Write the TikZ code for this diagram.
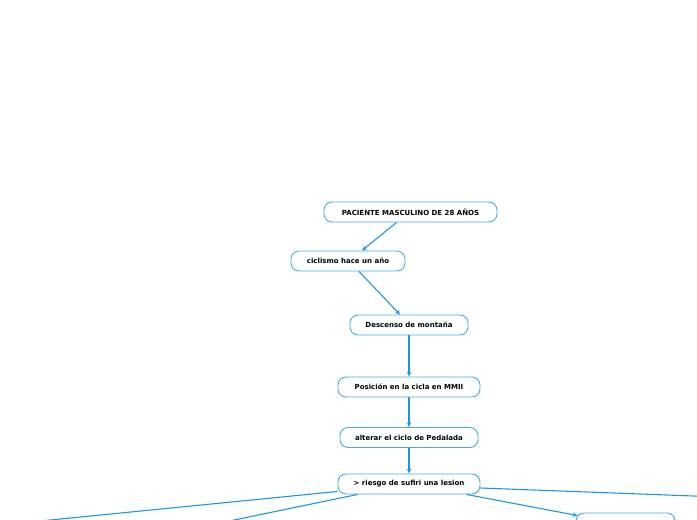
\documentclass[tikz,border=0pt]{standalone}
\usepackage{fontspec}
\setmainfont{DejaVu Sans}
\usetikzlibrary{calc,arrows.meta}
\definecolor{lnblue}{RGB}{28,150,226}
\definecolor{bxblue}{RGB}{70,170,230}
\tikzset{
  box/.style={draw=bxblue, line width=0.9pt, rounded corners=8pt, fill=white, minimum height=20pt, inner sep=0pt, font=\fontsize{7}{8}\selectfont\bfseries, text=black},
  conn/.style={draw=lnblue, line width=1.1pt, -{Stealth[length=5pt,width=4.5pt]}},
  link/.style={draw=lnblue, line width=1.1pt},
}
\begin{document}
\begin{tikzpicture}[x=1pt,y=-1pt]
\useasboundingbox (0,0) rectangle (697,520);
\clip (0,0) rectangle (697,520);
\node[box, minimum width=173pt] (p) at (410.5,212) {PACIENTE MASCULINO DE 28 AÑOS};
\node[box, minimum width=114pt] (c) at (348,261) {ciclismo hace un año};
\node[box, minimum width=118pt] (d) at (409,325) {Descenso de montaña};
\node[box, minimum width=142pt] (pos) at (409,387) {Posición en la cicla en MMII};
\node[box, minimum width=138pt] (alt) at (409,437.5) {alterar el ciclo de Pedalada};
\node[box, minimum width=142pt] (r) at (409,484) {> riesgo de sufiri una lesion};
\node[box, minimum width=99pt, minimum height=30pt] (r4) at (625.5,528) {};
\coordinate (e1) at (0,525);
\coordinate (e2) at (210,525);
\coordinate (e3) at (720,497);
\draw[conn] ($(p.south)+(-14,0)$) -- ($(c.north)+(14,0)$);
\draw[conn] ($(c.south)+(11,0)$) -- ($(d.north)+(-9,0)$);
\draw[conn] (d) -- (pos);
\draw[conn] (pos) -- (alt);
\draw[conn] (alt) -- (r);
\draw[link] ($(r.south west)+(0,-3)$) -- (e1);
\draw[link] ($(r.south west)+(20,0)$) -- (e2);
\draw[link] ($(r.east)+(0,4)$) -- (e3);
\draw[conn] ($(r.south east)+(-14,0)$) -- ($(r4.north west)+(2,3)$);
\end{tikzpicture}
\end{document}
